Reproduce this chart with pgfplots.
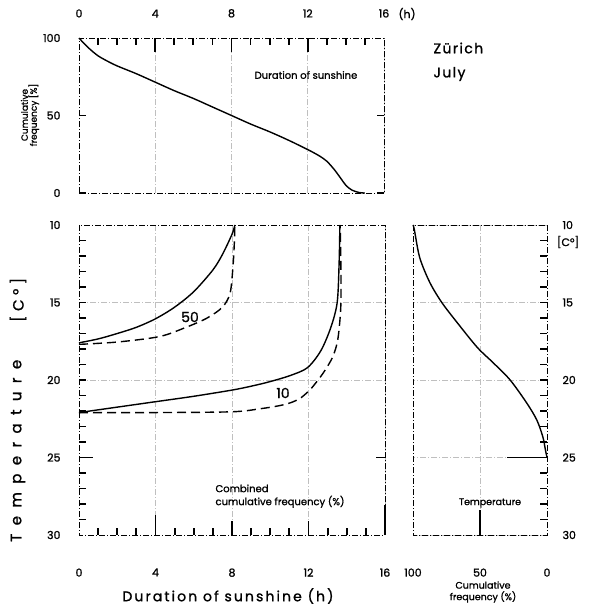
\documentclass[border=0pt]{standalone}
\usepackage{pgfplots}
\pgfplotsset{compat=1.18}
\usepackage{fontspec}
\setmainfont{Poppins}

\newcommand\lab[1]{\fontsize{#1}{#1}\selectfont\addfontfeature{FakeBold=1.2}}

% frame and grid strokes of the scanned figure
\tikzset{
  dd/.style={line width=0.6pt, dash pattern=on 6pt off 2pt on 1pt off 2pt},
  tk/.style={black, solid, line width=1.8pt},
  curve/.style={black, line width=1.4pt, smooth},
  dcurve/.style={curve, dash pattern=on 9pt off 5pt},
}
\pgfplotsset{
  panel/.style={
    scale only axis, anchor=north west, clip=false,
    axis line style={dd},
    major tick length=0pt, minor tick length=0pt,
    grid style={dd},
    ticklabel style={font=\lab{11}},
    /pgf/number format/assume math mode=true,
  },
}

\begin{document}
\begin{tikzpicture}
\path[use as bounding box] (0pt,0pt) rectangle (591pt,-608pt);

% top: duration of sunshine
\begin{axis}[panel, at={(79pt,-38pt)}, width=305pt, height=155pt,
  xmin=0, xmax=16, ymin=0, ymax=100,
  xtick={0,4,8,12,16},
  xticklabel pos=upper,
  xticklabel style={yshift=17pt},
  ytick={0,50,100}, yticklabel pos=left,
  yticklabel style={xshift=-15pt},
  xmajorgrids,
]
\addplot[curve] coordinates {
(0,100)(0.3,96)(0.6,92.5)(1,88.5)(1.5,85)(2,82)(3,77)(4,71.5)(5,66)
(6,61)(7,55.5)(8,50)(9,44.5)(10,39.5)(11,34)(12,28)(12.6,24)(13,20.5)
(13.4,15)(13.7,10)(14,5)(14.3,2)(14.7,0.3)(15,0)
};
\end{axis}

% bottom left: temperature vs sunshine
\begin{axis}[panel, at={(79pt,-225pt)}, width=306pt, height=310pt,
  xmin=0, xmax=16, ymin=10, ymax=30, y dir=reverse,
  xtick={0,4,8,12,16},
  xticklabel style={yshift=-30pt},
  ytick={10,15,20,25,30}, yticklabel pos=left,
  yticklabel style={xshift=-15pt},
  xmajorgrids, extra y ticks={15,20}, extra y tick labels={},
  extra y tick style={grid=major},
]
\addplot[curve] coordinates {
(0,17.6)(1,17.35)(2,17.0)(3,16.6)(4,16.05)(5,15.3)(6,14.3)(7,12.9)
(7.5,11.9)(8,10.6)(8.15,10)
};
\addplot[dcurve] coordinates {
(0,17.7)(2,17.55)(4.2,17.2)(5.6,16.6)(6.7,16.0)(7.5,15.3)(7.9,14.4)
(8.05,12.7)(8.12,11.2)(8.15,10)
};
\addplot[curve] coordinates {
(0,22.1)(2,21.75)(4,21.4)(6,21.05)(8,20.65)(9,20.4)(10,20.1)(11.07,19.7)
(11.95,19.2)(12.65,18.1)(13.17,16.6)(13.5,15)(13.6,12.5)(13.64,10)
};
\addplot[dcurve] coordinates {
(0,22.1)(4,22.1)(8,22.05)(9.5,21.85)(10.5,21.65)(11.1,21.45)(11.6,21.15)
(12.1,20.6)(12.5,20.0)(12.85,19.4)(13.27,18.5)(13.53,17.4)(13.68,15.5)
(13.7,13.5)(13.66,10)
};
\pgfplotsinvokeforeach{1,...,15}{\draw[tk] (axis cs:#1,30) -- ++(0pt,7pt);}
\draw[tk] (axis cs:4,30) -- ++(0pt,20pt);
\draw[tk] (axis cs:8,30) -- ++(0pt,14pt);
\draw[tk] (axis cs:12,30) -- ++(0pt,14pt);
\draw[tk] (axis cs:16,30) -- ++(0pt,30pt);
\end{axis}

% bottom right: temperature frequency
\begin{axis}[panel, at={(413pt,-225pt)}, width=134pt, height=310pt,
  xmin=0, xmax=100, x dir=reverse, ymin=10, ymax=30, y dir=reverse,
  xtick={0,50,100},
  xticklabel style={yshift=-30pt},
  ytick={10,15,20,25,30},
  yticklabel pos=right,
  yticklabel style={xshift=12pt},
  xmajorgrids, ymajorgrids,
]
\addplot[curve] coordinates {
(100,10)(99,10.3)(95,12.1)(87.5,13.7)(78.5,15)(67,16.3)(52,17.9)(40,18.9)
(27.5,20)(15,21.5)(7.5,22.6)(3,23.7)(1.2,24.5)(0,25)
};
\draw[tk] (axis cs:50,30) -- ++(0pt,25pt);
\draw[tk] (axis cs:0,25) -- ++(-40pt,0pt);
\end{axis}

% tick marks along the frames (drawn on the page, outside the axes)
\foreach \i in {1,...,15}
  \draw[tk] ({(79+19.0625*\i)*1pt},-38pt) -- ++(0pt,-7pt);
\foreach \i in {4,8,12}
  \draw[tk] ({(79+19.0625*\i)*1pt},-38pt) -- ++(0pt,-14pt);
\draw[tk] (79pt,-115.5pt) -- ++(7pt,0pt);
\draw[tk] (79pt,-193pt) -- ++(7pt,0pt);
\draw[tk] (384pt,-115.5pt) -- ++(-7pt,0pt);
\draw[tk] (384pt,-193pt) -- ++(-7pt,0pt);
\foreach \t in {1,...,19} {
  \draw[tk] (79pt,{(-225-15.5*\t)*1pt}) -- ++(7pt,0pt);
  \draw[tk] (547pt,{(-225-15.5*\t)*1pt}) -- ++(-7pt,0pt);
}
\draw[tk] (79pt,-457.5pt) -- ++(14pt,0pt);
\draw[tk] (385pt,-457.5pt) -- ++(-9pt,0pt);

% texts
\node[anchor=west, font=\lab{11}] at (395pt,-14pt) {(h)};
\node[font=\lab{10}] at (306pt,-75pt) {Duration of sunshine};
\node[rotate=90, align=center, font=\lab{9}] at (30pt,-115pt)
  {Cumulative\\frequency [\%]};
\node[anchor=west, font=\lab{14}\addfontfeature{LetterSpace=10}]
  at (430pt,-48pt) {Zürich};
\node[anchor=west, font=\lab{14}\addfontfeature{LetterSpace=10}]
  at (430pt,-74pt) {July};
\node[font=\lab{14}] at (190pt,-317pt) {50};
\node[font=\lab{14}] at (283pt,-393pt) {10};
\node[anchor=north west, align=left, font=\lab{10}]
  at (212pt,-481pt) {Combined\\[3pt]cumulative frequency (\%)};
\node[font=\lab{9.5}] at (490pt,-503pt) {Temperature};
\node[font=\lab{11}] at (568pt,-242pt) {[C°]};
\node[rotate=90, anchor=west, inner sep=0pt,
  font=\lab{15}\addfontfeature{LetterSpace=56}]
  at (18pt,-542pt) {Temperature};
\node[rotate=90, anchor=west, inner sep=0pt,
  font=\lab{15}\addfontfeature{LetterSpace=30}]
  at (18pt,-322pt) {[C°]};
\node[font=\lab{14}\addfontfeature{LetterSpace=15}]
  at (228pt,-596pt) {Duration of sunshine (h)};
\node[align=center, font=\lab{9.5}] at (483pt,-592pt)
  {Cumulative\\[2pt]frequency (\%)};
\end{tikzpicture}
\end{document}
